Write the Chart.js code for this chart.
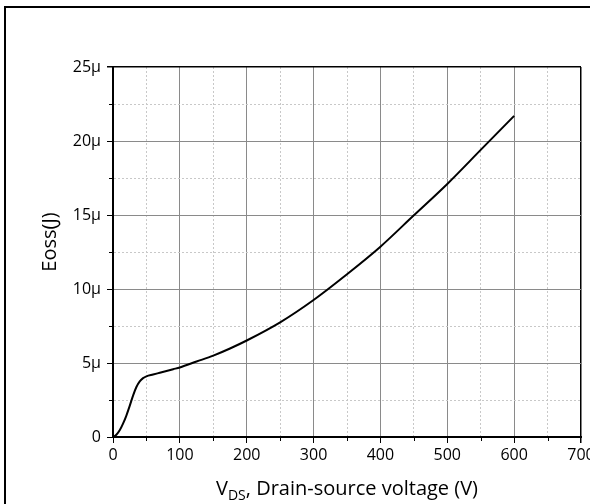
<!DOCTYPE html>
<html>
<head>
<meta charset="utf-8">
<script src="https://cdn.jsdelivr.net/npm/chart.js@4"></script>
<style>
  html, body { margin: 0; padding: 0; background: #fff; }
  canvas { display: block; }
</style>
</head>
<body>
<canvas id="eossChart" width="590" height="504"></canvas>
<script>
// Output capacitance stored energy vs. drain-source voltage
const vdsVolts = [0, 5, 10, 15, 20, 25, 30, 35, 40, 45, 50, 60, 70, 80, 90, 100,
  125, 150, 175, 200, 250, 300, 350, 400, 450, 500, 550, 600];
const eossMicroJ = [0, 0.15, 0.45, 0.9, 1.45, 2.1, 2.8, 3.38, 3.76, 3.98, 4.1, 4.22, 4.34, 4.46, 4.58, 4.7,
  5.1, 5.5, 5.98, 6.52, 7.75, 9.26, 11.0, 12.86, 14.98, 17.1, 19.4, 21.7];

const xTicksMajor = [0, 100, 200, 300, 400, 500, 600, 700];
const yTicksMajor = [0, 5, 10, 15, 20, 25];

const FONT = "'Open Sans', 'Noto Sans', sans-serif";
const MAJOR_GRID = '#8a8a8a';
const MINOR_GRID = '#c8c8c8';

const points = vdsVolts.map((v, i) => ({ x: v, y: eossMicroJ[i] }));

function isMajor(list, value) {
  return list.some(t => Math.abs(t - value) < 1e-6);
}

// outer frame, minor tick marks and both axis titles
const decorations = {
  id: 'decorations',
  afterDraw(chart) {
    const ctx = chart.ctx;
    const xs = chart.scales.x;
    const ys = chart.scales.y;
    const area = chart.chartArea;
    ctx.save();

    ctx.strokeStyle = '#000';
    ctx.lineWidth = 2;
    ctx.beginPath();
    ctx.moveTo(5, 504);
    ctx.lineTo(5, 7);
    ctx.lineTo(590, 7);
    ctx.stroke();

    ctx.lineWidth = 1;
    ctx.beginPath();
    for (let v = 50; v < 700; v += 100) {
      const px = Math.round(xs.getPixelForValue(v)) + 0.5;
      ctx.moveTo(px, area.bottom);
      ctx.lineTo(px, area.bottom + 4);
    }
    for (let v = 2.5; v < 25; v += 5) {
      const py = Math.round(ys.getPixelForValue(v)) + 0.5;
      ctx.moveTo(area.left, py);
      ctx.lineTo(area.left - 4, py);
    }
    ctx.stroke();

    const bigFont = '20px ' + FONT;
    const subFont = '14px ' + FONT;
    ctx.fillStyle = '#000';

    // y title, rotated
    ctx.save();
    ctx.translate(50, 242);
    ctx.rotate(-Math.PI / 2);
    ctx.font = bigFont;
    ctx.textAlign = 'center';
    ctx.textBaseline = 'middle';
    ctx.fillText('Eoss(J)', 0, 0);
    ctx.restore();

    // x title with subscript DS
    const cx = (area.left + area.right) / 2;
    const base = 495;
    ctx.textBaseline = 'alphabetic';
    ctx.textAlign = 'left';
    ctx.font = bigFont;
    const wV = ctx.measureText('V').width;
    const rest = ', Drain-source voltage (V)';
    const wRest = ctx.measureText(rest).width;
    ctx.font = subFont;
    const wSub = ctx.measureText('DS').width;
    let x = cx - (wV + wSub + wRest) / 2;
    ctx.font = bigFont;
    ctx.fillText('V', x, base);
    x += wV;
    ctx.font = subFont;
    ctx.fillText('DS', x, base + 5);
    x += wSub;
    ctx.font = bigFont;
    ctx.fillText(rest, x, base);

    ctx.restore();
  }
};

new Chart(document.getElementById('eossChart'), {
  type: 'line',
  data: {
    datasets: [{
      data: points,
      borderColor: '#000',
      borderWidth: 2,
      pointRadius: 0,
      fill: false,
      cubicInterpolationMode: 'monotone'
    }]
  },
  options: {
    responsive: false,
    animation: false,
    devicePixelRatio: 1,
    layout: { padding: { top: 67, right: 9, left: 0, bottom: 0 } },
    plugins: {
      legend: { display: false },
      tooltip: { enabled: false }
    },
    scales: {
      x: {
        type: 'linear',
        min: 0,
        max: 700,
        afterFit(scale) {
          scale.height = 67;
          scale.paddingLeft = 0;
          scale.paddingRight = 0;
        },
        ticks: {
          stepSize: 50,
          autoSkip: false,
          maxRotation: 0,
          padding: 3,
          color: '#000',
          font: { family: FONT, size: 16 },
          callback: v => isMajor(xTicksMajor, v) ? String(v) : ''
        },
        grid: {
          tickLength: 6,
          color: c => {
            const v = c.tick ? c.tick.value : 0;
            if (v === 0 || v === 700) return '#000';
            return isMajor(xTicksMajor, v) ? MAJOR_GRID : MINOR_GRID;
          },
          lineWidth: c => (c.tick && c.tick.value === 700) ? 1.5 : 1,
          tickColor: c => (c.tick && isMajor(xTicksMajor, c.tick.value)) ? '#000' : 'rgba(0,0,0,0)'
        },
        border: {
          color: '#000',
          width: 2,
          dash: c => (c.tick && !isMajor(xTicksMajor, c.tick.value)) ? [2, 2] : []
        }
      },
      y: {
        type: 'linear',
        min: 0,
        max: 25,
        afterFit(scale) {
          scale.width = 113;
          scale.paddingTop = 0;
          scale.paddingBottom = 0;
        },
        ticks: {
          stepSize: 2.5,
          autoSkip: false,
          padding: 6,
          color: '#000',
          font: { family: FONT, size: 16 },
          callback: v => isMajor(yTicksMajor, v) ? (v === 0 ? '0' : v + 'μ') : ''
        },
        grid: {
          tickLength: 6,
          color: c => {
            const v = c.tick ? c.tick.value : 0;
            if (v === 0 || v === 25) return '#000';
            return isMajor(yTicksMajor, v) ? MAJOR_GRID : MINOR_GRID;
          },
          lineWidth: c => (c.tick && c.tick.value === 25) ? 1.5 : 1,
          tickColor: c => (c.tick && isMajor(yTicksMajor, c.tick.value)) ? '#000' : 'rgba(0,0,0,0)'
        },
        border: {
          color: '#000',
          width: 2,
          dash: c => (c.tick && !isMajor(yTicksMajor, c.tick.value)) ? [2, 2] : []
        }
      }
    }
  },
  plugins: [decorations]
});
</script>
</body>
</html>
